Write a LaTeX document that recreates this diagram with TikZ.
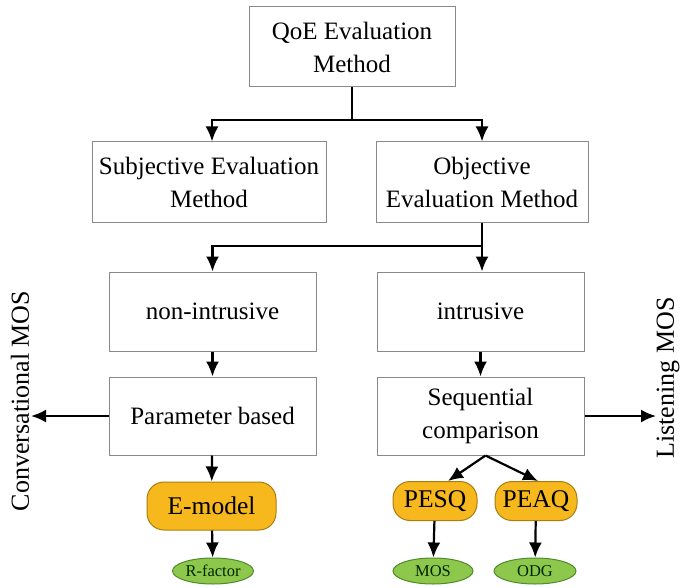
\documentclass[tikz,border=0pt]{standalone}
\usepackage{fontspec}
\setmainfont{Liberation Serif}
\usetikzlibrary{arrows.meta,shapes.geometric}
\definecolor{boxline}{HTML}{8A8A8A}
\definecolor{gold}{HTML}{F6B81C}
\definecolor{goldline}{HTML}{A87E12}
\definecolor{leaf}{HTML}{8DC84C}
\definecolor{leafline}{HTML}{4F8A2C}
\begin{document}
\begin{tikzpicture}[x=1pt,y=-1pt,
  box/.style={draw=boxline,line width=1pt,fill=white,inner sep=0pt,align=center,
    font=\fontsize{25}{33}\selectfont},
  method/.style={rectangle,draw=goldline,line width=1pt,fill=gold,rounded corners=17pt,
    inner sep=0pt,font=\fontsize{25.5}{30}\selectfont},
  result/.style={ellipse,draw=leafline,line width=1pt,fill=leaf,inner sep=0pt,
    text=black!85!green,font=\fontsize{16.5}{20}\selectfont},
  flow/.style={line width=2.2pt,-{Latex[length=15pt,width=13pt]}},
  link/.style={line width=2.2pt},
  side/.style={rotate=90,font=\fontsize{26}{30}\selectfont}]
\useasboundingbox (0,0) rectangle (682,588);

% evaluation tree
\node[box,minimum width=206pt,minimum height=80pt] (qoe) at (352,47) {QoE Evaluation\\Method};
\node[box,minimum width=234pt,minimum height=80pt] (subj) at (209,182) {Subjective Evaluation\\Method};
\node[box,minimum width=212pt,minimum height=80pt] (obj) at (482,182) {Objective\\Evaluation Method};
\node[box,minimum width=207pt,minimum height=79pt] (nonint) at (212.5,311.5) {non-intrusive};
\node[box,minimum width=207pt,minimum height=79pt] (intr) at (480.5,311.5) {intrusive};
\node[box,minimum width=207pt,minimum height=78pt] (param) at (212.5,416) {Parameter based};
\node[box,minimum width=207pt,minimum height=78pt] (seq) at (480.5,416) {Sequential\\comparison};

% models and their scores
\node[method,minimum width=129pt,minimum height=48pt] (emodel) at (211.5,506) {E-model};
\node[method,minimum width=84pt,minimum height=39pt] (pesq) at (435,501) {PESQ};
\node[method,minimum width=82pt,minimum height=39pt] (peaq) at (536,501) {PEAQ};
\node[result,minimum width=81pt,minimum height=26pt] (rf) at (213,571) {R-factor};
\node[result,minimum width=80pt,minimum height=26pt] (mos) at (433,571) {MOS};
\node[result,minimum width=82pt,minimum height=26pt] (odg) at (535,571) {ODG};

% side labels
\node[side] (conv) at (20,401) {Conversational MOS};
\node[side] (listen) at (668,378) {Listening MOS};
\coordinate (convtip) at (31,416);
\coordinate (listentip) at (656,416);

% branching connectors
\coordinate (qj) at (352,120);
\coordinate (oj) at (482,246);
\draw[link] (qoe.south) -- (qj);
\draw[flow] (qj) -| ([xshift=3pt]subj.north);
\draw[flow] (qj) -| (obj.north);
\draw[link] (obj.south) -- (oj);
\draw[flow] (oj) -| (nonint.north);
\draw[flow] (oj) -- (oj |- intr.north);
\draw[flow] (nonint) -- (param);
\draw[flow] (intr) -- (seq);
\draw[flow] (param.west) -- (convtip);
\draw[flow] (seq.east) -- (listentip);
\draw[flow] (param) -- (emodel);
\draw[flow] ([xshift=5pt]seq.south) -- ([xshift=13pt]pesq.north);
\draw[flow] ([xshift=5pt]seq.south) -- ([xshift=2pt]peaq.north);
\draw[flow] (emodel) -- (rf);
\draw[flow] (pesq) -- (mos);
\draw[flow] (peaq) -- (odg);
\end{tikzpicture}
\end{document}
